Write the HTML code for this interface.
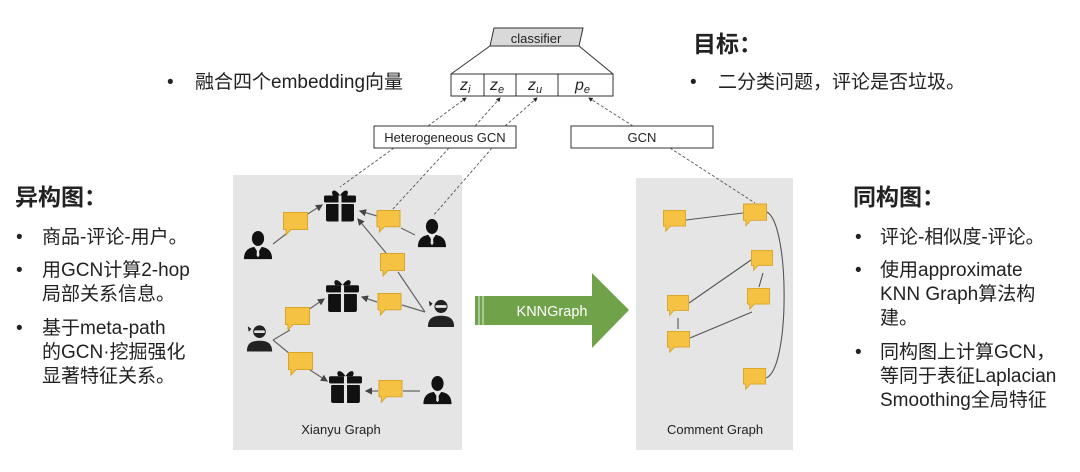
<!DOCTYPE html>
<html><head><meta charset="utf-8"><style>
body{margin:0;background:#fff}
svg{display:block}
text{font-family:"Liberation Sans","Noto Sans CJK SC",sans-serif}
.t{font-size:19px;fill:#222}
.h{font-size:23px;font-weight:bold;fill:#222}
.s{font-size:13px;fill:#222}
</style></head><body>
<svg width="1080" height="472" viewBox="0 0 1080 472" xmlns="http://www.w3.org/2000/svg">
<defs>
<symbol id="cm" viewBox="0 0 25 25" overflow="visible">
<path d="M0.5 0.5H24.5V17.5H8L3 23V17.5H0.5Z" fill="#f6c244" stroke="#d8a42a" stroke-width="1"/>
</symbol>
<symbol id="gift" viewBox="0 0 34 34" overflow="visible">
<path d="M17 8 C12 0 7 3 10 8 Z M17 8 C22 0 27 3 24 8Z" fill="#111"/>
<rect x="1" y="8" width="32" height="7" rx="1.5" fill="#111"/>
<rect x="3" y="16" width="28" height="18" rx="2" fill="#111"/>
<rect x="15.5" y="8" width="3" height="26" fill="#e6e5e5"/>
<rect x="1" y="15" width="32" height="1.5" fill="#e6e5e5"/>
</symbol>
<symbol id="user" viewBox="0 0 32 32" overflow="visible">
<ellipse cx="16" cy="9" rx="6.5" ry="8" fill="#111"/>
<path d="M1 31 C1 22 6 19 12 18 L16 24 L20 18 C26 19 31 22 31 31Z" fill="#111"/>
<path d="M15 19 L17 19 L17.5 27 L16 29 L14.5 27Z" fill="#e6e5e5"/>
</symbol>
<symbol id="ninja" viewBox="0 0 30 32" overflow="visible">
<circle cx="15" cy="9" r="7" fill="#222"/>
<rect x="9" y="7.5" width="12" height="3" rx="1.5" fill="#e6e5e5"/>
<path d="M6 6 L2 3 L3 9Z" fill="#222"/>
<path d="M1 31 C1 22 6 19 15 19 C24 19 29 22 29 31Z" fill="#222"/>
</symbol>
<marker id="a" markerWidth="6" markerHeight="6" refX="5" refY="3" orient="auto"><path d="M0 0L6 3L0 6Z" fill="#444"/></marker>
<marker id="d" markerWidth="5" markerHeight="5" refX="4" refY="2.5" orient="auto"><path d="M0 0L5 2.5L0 5Z" fill="#222"/></marker>
</defs>

<rect x="233" y="175" width="229" height="275" fill="#e6e5e5"/>
<rect x="636" y="178" width="157" height="272" fill="#e6e5e5"/>

<path d="M494 28H583L579 46H490Z" fill="#d9d9d9" stroke="#333" stroke-width="1"/>
<text x="536" y="43" text-anchor="middle" class="s" font-size="15">classifier</text>
<line x1="490" y1="46" x2="451" y2="74" stroke="#333"/>
<line x1="579" y1="46" x2="613" y2="74" stroke="#333"/>
<rect x="451" y="74" width="162" height="22" fill="#fff" stroke="#333"/>
<line x1="484" y1="74" x2="484" y2="96" stroke="#333"/>
<line x1="516" y1="74" x2="516" y2="96" stroke="#333"/>
<line x1="558" y1="74" x2="558" y2="96" stroke="#333"/>
<g font-family="Liberation Serif,serif" font-style="italic" font-size="16" fill="#222">
<text x="460" y="90">z<tspan font-size="11" dy="3">i</tspan></text>
<text x="490" y="90">z<tspan font-size="11" dy="3">e</tspan></text>
<text x="528" y="90">z<tspan font-size="11" dy="3">u</tspan></text>
<text x="575" y="90">p<tspan font-size="11" dy="3">e</tspan></text>
</g>

<rect x="374" y="126" width="142" height="22" fill="#fff" stroke="#333"/>
<text x="445" y="142" text-anchor="middle" class="s">Heterogeneous GCN</text>
<rect x="571" y="126" width="142" height="22" fill="#fff" stroke="#333"/>
<text x="642" y="142" text-anchor="middle" class="s">GCN</text>

<g stroke="#555" stroke-dasharray="3,2" fill="none" stroke-width="0.9">
<line x1="428" y1="126" x2="466" y2="98" marker-end="url(#d)"/>
<line x1="475" y1="126" x2="500" y2="98" marker-end="url(#d)"/>
<line x1="505" y1="126" x2="537" y2="98" marker-end="url(#d)"/>
<line x1="633" y1="126" x2="589" y2="98" marker-end="url(#d)"/>
<line x1="394" y1="148" x2="340" y2="187"/>
<line x1="449" y1="148" x2="392" y2="210"/>
<line x1="492" y1="148" x2="433" y2="216"/>
<line x1="670" y1="148" x2="755" y2="203"/>
</g>

<g stroke="#666" stroke-width="1.2" fill="none">
<line x1="273" y1="244" x2="286" y2="234"/>
<line x1="306" y1="215" x2="322" y2="205" marker-end="url(#a)"/>
<line x1="377" y1="216" x2="360" y2="211" marker-end="url(#a)"/>
<line x1="415" y1="235" x2="401" y2="228"/>
<line x1="386" y1="253" x2="358" y2="219" marker-end="url(#a)"/>
<line x1="398" y1="272" x2="425" y2="312"/>
<line x1="402" y1="305" x2="425" y2="312"/>
<line x1="377" y1="302" x2="362" y2="297" marker-end="url(#a)"/>
<line x1="273" y1="340" x2="290" y2="330"/>
<line x1="308" y1="310" x2="324" y2="299" marker-end="url(#a)"/>
<line x1="273" y1="340" x2="290" y2="354"/>
<line x1="310" y1="370" x2="327" y2="381" marker-end="url(#a)"/>
<line x1="378" y1="391" x2="366" y2="391" marker-end="url(#a)"/>
<line x1="403" y1="391" x2="420" y2="391"/>
</g>
<use href="#gift" x="323" y="187" width="34" height="35"/>
<use href="#gift" x="325" y="277" width="35" height="35"/>
<use href="#gift" x="328" y="368" width="35" height="35"/>
<use href="#user" x="243" y="230" width="30" height="30"/>
<use href="#user" x="416" y="218" width="32" height="30"/>
<use href="#user" x="422" y="375" width="31" height="30"/>
<use href="#ninja" x="427" y="298" width="28" height="30"/>
<use href="#ninja" x="246" y="323" width="27" height="30"/>
<use href="#cm" x="283" y="212" width="25" height="25"/>
<use href="#cm" x="376" y="210" width="25" height="24"/>
<use href="#cm" x="380" y="253" width="25" height="25"/>
<use href="#cm" x="377" y="293" width="25" height="24"/>
<use href="#cm" x="285" y="307" width="25" height="25"/>
<use href="#cm" x="288" y="352" width="25" height="25"/>
<use href="#cm" x="378" y="380" width="25" height="24"/>
<text x="341" y="434" text-anchor="middle" class="s" font-size="15">Xianyu Graph</text>

<g stroke="#555" stroke-width="1.1" fill="none">
<line x1="686" y1="220" x2="743" y2="213"/>
<line x1="689" y1="303" x2="751" y2="260"/>
<line x1="763" y1="273" x2="759" y2="287"/>
<line x1="690" y1="338" x2="752" y2="312"/>
<line x1="678" y1="318" x2="678" y2="329"/>
<path d="M767 212 C790 225 790 370 766 378"/>
</g>
<use href="#cm" x="663" y="209" width="23" height="25"/>
<use href="#cm" x="743" y="203" width="24" height="25"/>
<use href="#cm" x="751" y="249" width="22" height="24"/>
<use href="#cm" x="747" y="287" width="23" height="25"/>
<use href="#cm" x="667" y="294" width="22" height="24"/>
<use href="#cm" x="667" y="330" width="23" height="25"/>
<use href="#cm" x="743" y="367" width="23" height="25"/>
<text x="715" y="434" text-anchor="middle" class="s" font-size="15">Comment Graph</text>

<path d="M475 296H592V273L629 310L592 348V325H475Z" fill="#70a24a"/>
<line x1="479" y1="296" x2="479" y2="325" stroke="#e8f0e0" stroke-width="1"/>
<line x1="483" y1="296" x2="483" y2="325" stroke="#e8f0e0" stroke-width="1"/>
<text x="552" y="316" text-anchor="middle" font-size="14.5" fill="#fff">KNNGraph</text>

<text x="167" y="88" class="t">•</text><text x="195" y="88" class="t">融合四个embedding向量</text>
<text x="693" y="52" class="h">目标：</text>
<text x="690" y="88" class="t">•</text><text x="718" y="88" class="t">二分类问题，评论是否垃圾。</text>

<text x="15" y="205" class="h">异构图：</text>
<g class="t">
<text x="16" y="243">•</text><text x="42" y="243">商品-评论-用户。</text>
<text x="16" y="276">•</text><text x="42" y="276">用GCN计算2-hop</text>
<text x="42" y="300">局部关系信息。</text>
<text x="16" y="334">•</text><text x="42" y="334">基于meta-path</text>
<text x="42" y="358">的GCN·挖掘强化</text>
<text x="42" y="382">显著特征关系。</text>
</g>

<text x="853" y="205" class="h">同构图：</text>
<g class="t">
<text x="855" y="243">•</text><text x="880" y="243">评论-相似度-评论。</text>
<text x="855" y="276">•</text><text x="880" y="276">使用approximate</text>
<text x="880" y="300">KNN Graph算法构</text>
<text x="880" y="324">建。</text>
<text x="855" y="358">•</text><text x="880" y="358">同构图上计算GCN，</text>
<text x="880" y="382">等同于表征Laplacian</text>
<text x="880" y="406">Smoothing全局特征</text>
</g>
</svg>
</body></html>
